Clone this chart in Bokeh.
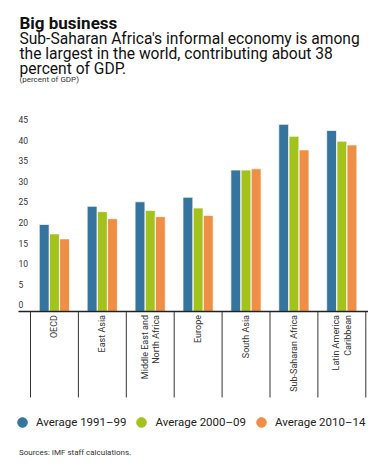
from bokeh.plotting import figure
from bokeh.models import Range1d, Legend, LegendItem, ColumnDataSource, Label
from bokeh.core.properties import value
from bokeh.embed import file_html
from bokeh.resources import INLINE

# ---- data ----
regions = ["OECD", "East Asia", "Middle East and\nNorth Africa", "Europe",
           "South Asia", "Sub-Saharan Africa", "Latin America\nCaribbean"]
avg_1991_99 = [19.5, 23.9, 25.0, 26.1, 32.7, 43.8, 42.3]
avg_2000_09 = [17.2, 22.6, 22.9, 23.5, 32.7, 40.9, 39.7]
avg_2010_14 = [16.0, 20.9, 21.4, 21.7, 33.0, 37.6, 38.8]
series_names = ["Average 1991\u201399", "Average 2000\u201309", "Average 2010\u201314"]
series_colors = ["#34749f", "#a3c21b", "#ef8f46"]
y_ticks = [0, 5, 10, 15, 20, 25, 30, 35, 40, 45]

title_text = "Big business"
subtitle_lines = ["Sub-Saharan Africa's informal economy is among",
                  "the largest in the world, contributing about 38",
                  "percent of GDP."]
unit_text = "(percent of GDP)"
source_text = "Sources: IMF staff calculations."

FONT = value("Roboto")

# ---- layout geometry (pixels inside the canvas) ----
W, H = 368, 458
PXU = 4.12        # pixels per percentage point
ZERO_PX = 304.3   # canvas y of value 0
CAT = 47.9        # pixels per category
X0_PX = 30.0      # canvas x of the first category boundary


def yv(py):
    return (ZERO_PX - py) / PXU


def xv(px):
    return (px - X0_PX) / CAT


Y0 = yv(310.9)    # baseline (axis line)

p = figure(width=W, height=H, x_range=Range1d(xv(0), xv(W)), y_range=Range1d(yv(H), yv(0)),
           output_backend="svg", toolbar_location=None, title_location=None,
           x_axis_location=None, y_axis_location=None, min_border=0)
p.outline_line_color = None
p.xgrid.visible = False
p.ygrid.visible = False

n = len(regions)
centers = [i + 0.5 for i in range(n)]
offsets = [-0.214, 0.0, 0.211]
all_series = [avg_1991_99, avg_2000_09, avg_2010_14]
legend_items = []
for vals, off, col, name in zip(all_series, offsets, series_colors, series_names):
    src = ColumnDataSource(dict(x=[c + off for c in centers], top=vals))
    p.vbar(x="x", top="top", bottom=Y0, width=0.205, source=src,
           fill_color=col, line_color="white", line_width=1, line_alpha=0.7)
    # hidden marker renderer used only for the circular legend glyph
    d = p.scatter(x="x", y="top", source=src, marker="circle", size=10,
                  fill_color=col, line_color=col, visible=False)
    legend_items.append(LegendItem(label=name, renderers=[d]))

# baseline (x axis line)
p.segment(x0=[xv(18)], y0=[Y0], x1=[xv(367.5)], y1=[Y0], line_color="#222222", line_width=1.5)

# category separators
seps = list(range(n + 1))
p.segment(x0=seps, y0=[Y0] * len(seps), x1=seps, y1=[yv(397)] * len(seps),
          line_color="#333333", line_width=1)

# category labels (rotated)
p.text(x=centers, y=[yv(314.5)] * n, text=regions, angle=1.5707963,
       text_align="right", text_baseline="middle", text_font=FONT,
       text_font_size="9px", text_color="#333333", text_line_height=1.15)

# y tick labels
p.text(x=[xv(18)] * len(y_ticks), y=y_ticks, text=[str(t) for t in y_ticks],
       text_align="left", text_baseline="middle", text_font=FONT,
       text_font_size="8.5px", text_color="#333333")

# titles
p.text(x=[xv(19)], y=[yv(22.8)], text=[title_text], text_align="left",
       text_baseline="alphabetic", text_font=FONT, text_font_size="17px",
       text_font_style="bold", text_color="#111111")
p.text(x=[xv(19)] * 3, y=[yv(38.8), yv(53.8), yv(68.8)], text=subtitle_lines,
       text_align="left", text_baseline="alphabetic", text_font=FONT,
       text_font_size="15.6px", text_color="#111111")
p.text(x=[xv(19)], y=[yv(79.2)], text=[unit_text], text_align="left",
       text_baseline="alphabetic", text_font=FONT, text_font_size="8px",
       text_color="#333333")

p.add_layout(Label(x=xv(18.5), y=yv(451.5), text=source_text, text_align="left",
                   text_baseline="alphabetic", text_font="Roboto", text_font_size="8px",
                   text_color="#333333"))

legend = Legend(items=legend_items, orientation="horizontal", location=(10, H - 434),
                label_text_font="Roboto", label_text_font_size="11.5px", label_text_color="#222222",
                glyph_width=24, glyph_height=24, spacing=3, padding=0, margin=0,
                label_standoff=2, border_line_alpha=0, background_fill_alpha=0)
p.add_layout(legend, "center")

open("out.html", "w").write(file_html(p, INLINE))
